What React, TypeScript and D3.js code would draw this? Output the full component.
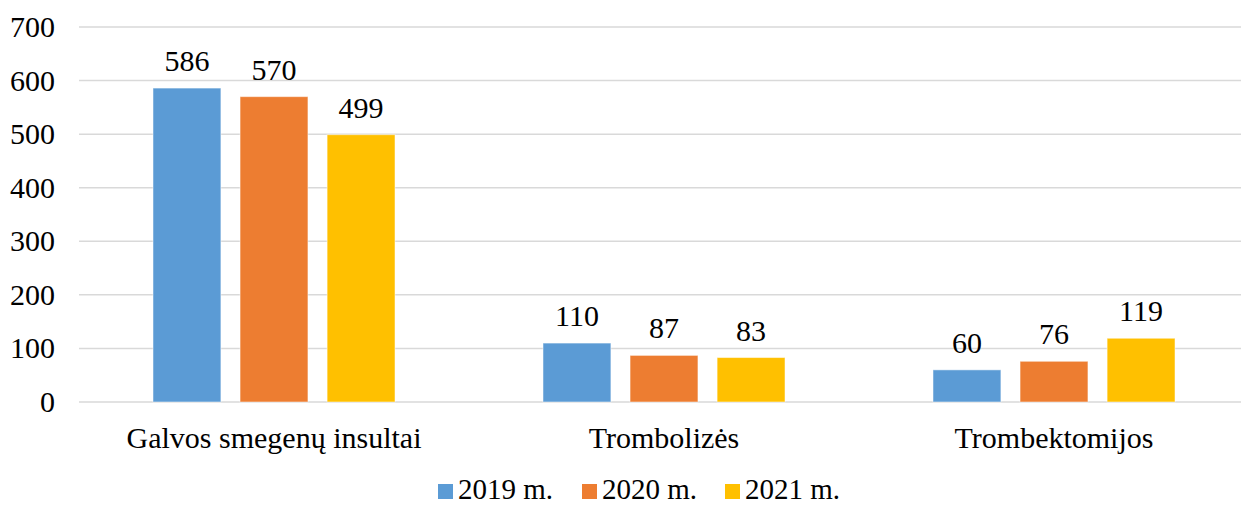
import React, { useRef, useEffect } from 'react';
import { select, scaleBand, scaleLinear } from 'd3';

const categories = ['Galvos smegenų insultai', 'Trombolizės', 'Trombektomijos'];
const seriesNames = ['2019 m.', '2020 m.', '2021 m.'];
const values2019 = [586, 110, 60];
const values2020 = [570, 87, 76];
const values2021 = [499, 83, 119];
const yTicks = [0, 100, 200, 300, 400, 500, 600, 700];
const colors = ['#5b9bd5', '#ed7d31', '#ffc000'];

const W = 1241;
const H = 505;
const FONT = "'Liberation Serif', 'Times New Roman', serif";

const Chart = () => {
  const svgRef = useRef<SVGSVGElement>(null);

  useEffect(() => {
    const svg = select(svgRef.current);
    svg.selectAll('*').remove();
    const seriesValues = [values2019, values2020, values2021];

    // scales
    const x0 = scaleBand<string>().domain(categories).range([79, 1249]).padding(0);
    const x1 = scaleBand<string>()
      .domain(seriesNames)
      .range([0, x0.bandwidth()])
      .paddingInner(0.22)
      .paddingOuter(0.85);
    const y = scaleLinear().domain([0, 700]).range([402, 27]);

    // gridlines
    svg
      .append('g')
      .selectAll('line')
      .data(yTicks)
      .join('line')
      .attr('x1', 79)
      .attr('x2', 1241)
      .attr('y1', (d) => y(d))
      .attr('y2', (d) => y(d))
      .attr('stroke', '#d9d9d9')
      .attr('stroke-width', 1.5);

    // y tick labels
    svg
      .append('g')
      .selectAll('text')
      .data(yTicks)
      .join('text')
      .attr('x', 55)
      .attr('y', (d) => y(d) + 10)
      .attr('text-anchor', 'end')
      .style('font-family', FONT)
      .style('font-size', '30px')
      .text((d) => d);

    // bars
    seriesNames.forEach((name, si) => {
      const g = svg.append('g');
      const data = categories.map((c, ci) => ({ c, v: seriesValues[si][ci] }));
      g.selectAll('rect')
        .data(data)
        .join('rect')
        .attr('x', (d) => (x0(d.c) as number) + (x1(name) as number))
        .attr('y', (d) => y(d.v))
        .attr('width', x1.bandwidth())
        .attr('height', (d) => y(0) - y(d.v))
        .attr('fill', colors[si])
        .attr('stroke', '#ffffff')
        .attr('stroke-opacity', 0.5)
        .attr('stroke-width', 1);
      g.selectAll('text')
        .data(data)
        .join('text')
        .attr('x', (d) => (x0(d.c) as number) + (x1(name) as number) + x1.bandwidth() / 2)
        .attr('y', (d) => y(d.v) - 17)
        .attr('text-anchor', 'middle')
        .style('font-family', FONT)
        .style('font-size', '30px')
        .text((d) => d.v);
    });

    // category labels
    svg
      .append('g')
      .selectAll('text')
      .data(categories)
      .join('text')
      .attr('x', (d) => (x0(d) as number) + x0.bandwidth() / 2)
      .attr('y', 448)
      .attr('text-anchor', 'middle')
      .style('font-family', FONT)
      .style('font-size', '30px')
      .text((d) => d);

    // legend
    const legendX = [438, 582, 725];
    const lg = svg.append('g');
    seriesNames.forEach((name, i) => {
      lg.append('rect')
        .attr('x', legendX[i])
        .attr('y', 484)
        .attr('width', 15)
        .attr('height', 15)
        .attr('fill', colors[i]);
      lg.append('text')
        .attr('x', legendX[i] + 20)
        .attr('y', 499)
        .style('font-family', FONT)
        .style('font-size', '29px')
        .text(name);
    });
  }, []);

  return (
    <svg
      ref={svgRef}
      width={W}
      height={H}
      style={{ position: 'absolute', left: 0, top: 0, display: 'block', background: '#fff' }}
    ></svg>
  );
};

export default function App() {
  return (
    <div>
      <Chart />
    </div>
  );
}
